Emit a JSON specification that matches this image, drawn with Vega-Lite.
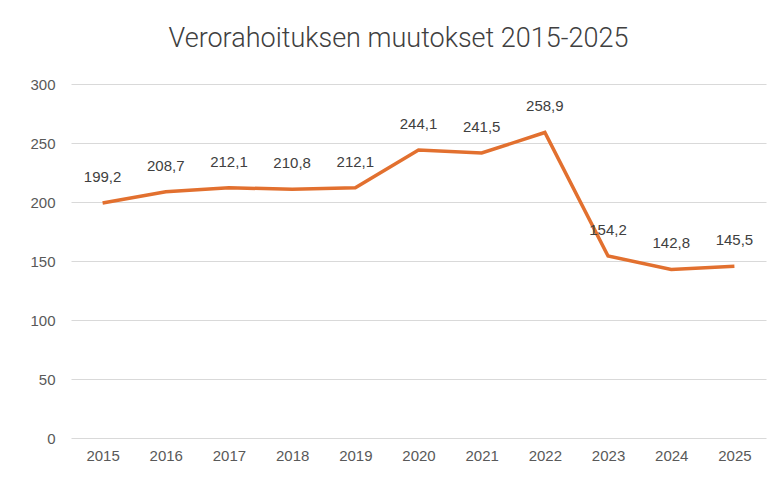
{
  "$schema": "https://vega.github.io/schema/vega-lite/v6.json",
  "width": 695,
  "height": 354,
  "autosize": {"type": "none"},
  "padding": {"left": 71, "top": 84, "right": 15, "bottom": 45},
  "background": "white",
  "title": {
    "text": "Verorahoituksen muutokset 2015-2025",
    "font": "Roboto",
    "fontSize": 27,
    "fontWeight": 300,
    "color": "#404040",
    "anchor": "middle",
    "dx": -20,
    "offset": 24
  },
  "config": {
    "view": {"stroke": null},
    "axis": {
      "labelFont": "Liberation Sans",
      "labelFontSize": 15,
      "labelColor": "#595959",
      "domain": false,
      "ticks": false,
      "title": null
    }
  },
  "data": {
    "values": [
      {"year": "2015", "value": 199.2, "label": "199,2"},
      {"year": "2016", "value": 208.7, "label": "208,7"},
      {"year": "2017", "value": 212.1, "label": "212,1"},
      {"year": "2018", "value": 210.8, "label": "210,8"},
      {"year": "2019", "value": 212.1, "label": "212,1"},
      {"year": "2020", "value": 244.1, "label": "244,1"},
      {"year": "2021", "value": 241.5, "label": "241,5"},
      {"year": "2022", "value": 258.9, "label": "258,9"},
      {"year": "2023", "value": 154.2, "label": "154,2"},
      {"year": "2024", "value": 142.8, "label": "142,8"},
      {"year": "2025", "value": 145.5, "label": "145,5"}
    ]
  },
  "encoding": {
    "x": {
      "field": "year",
      "type": "ordinal",
      "scale": {"type": "point", "padding": 0.5},
      "axis": {"labelAngle": 0, "labelPadding": 10, "grid": false}
    },
    "y": {
      "field": "value",
      "type": "quantitative",
      "scale": {"domain": [0, 300]},
      "axis": {"values": [0, 50, 100, 150, 200, 250, 300], "gridColor": "#d9d9d9", "gridWidth": 1, "labelPadding": 16}
    }
  },
  "layer": [
    {
      "mark": {"type": "line", "color": "#E2702F", "strokeWidth": 3.5, "strokeJoin": "miter"}
    },
    {
      "mark": {"type": "text", "dy": -26, "font": "Liberation Sans", "fontSize": 15, "color": "#404040"},
      "encoding": {"text": {"field": "label"}}
    }
  ]
}
